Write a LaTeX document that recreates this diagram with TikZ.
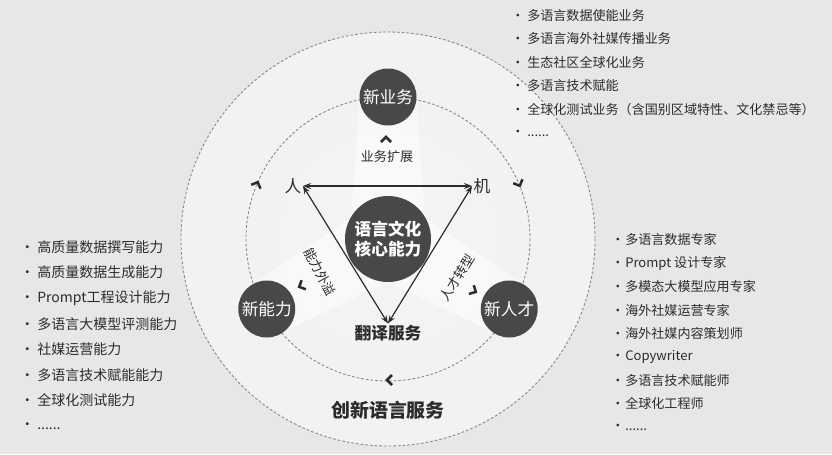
\documentclass[tikz,border=0pt]{standalone}
\usepackage{fontspec}
\setmainfont{Noto Sans CJK SC}
\usetikzlibrary{arrows.meta, calc}

\definecolor{bgcol}{HTML}{E7E7E7}
\definecolor{disccol}{HTML}{484848}
\definecolor{inkcol}{HTML}{2C2C2C}
\definecolor{dashcol}{HTML}{858585}
\pgfdeclareradialshading{ringshade}{\pgfpoint{0bp}{0bp}}{%
  rgb(0bp)=(.955,.955,.955); rgb(33.6bp)=(.945,.945,.945);
  rgb(34.4bp)=(.88,.88,.88); rgb(40bp)=(.91,.91,.91);
  rgb(49.5bp)=(.94,.94,.94); rgb(50bp)=(.94,.94,.94)}
\newcommand\moredots{......}

\begin{document}
\begin{tikzpicture}[
  x=0.75pt, y=-0.75pt,
  disc/.style={circle, fill=disccol, text=white, minimum size=42.75pt, inner sep=0pt, font=\fontsize{12.5}{15}\selectfont},
  core/.style={disc, minimum size=64.5pt, align=center, font=\fontsize{12.5}{15}\selectfont\bfseries},
  word/.style={inner sep=1pt, text=inkcol, font=\fontsize{12.5}{15}\selectfont},
  title/.style={word, font=\fontsize{12.5}{15}\selectfont\bfseries},
  tag/.style={inner sep=0pt, text=inkcol, font=\fontsize{9.8}{12}\selectfont},
  item/.style={anchor=west, inner sep=0pt, text=inkcol, font=\fontsize{9.8}{12}\selectfont},
  bigitem/.style={item, font=\fontsize{10.5}{12}\selectfont},
  arr/.style={{Stealth[length=6pt,width=4.5pt]}-{Stealth[length=6pt,width=4.5pt]}, line width=.9pt, draw=inkcol},
  ring/.style={draw=dashcol, line width=.65pt, dash pattern=on 2pt off 1.5pt},
  beam/.style={fill=white, fill opacity=.5},
  chevline/.style={draw=inkcol, line width=1.9pt},
  chev/.pic={\draw[chevline] (-3,-5) -- (2,0) -- (-3,5);}
]
  \useasboundingbox (0,0) rectangle (832,454);
  \fill[bgcol] (0,0) rectangle (832,454);

  % rings
  \coordinate (c) at (388,239);
  \shade[shading=ringshade] (c) circle (207);
  \draw[ring] (c) circle (207);
  \draw[ring] (c) circle (142);

  % beams from the core to the three discs
  \foreach \a/\d in {-90/142, 150/140, 30/140}
    \fill[beam] ($(c)+(\a:\d)+(\a+90:28)$) -- ($(c)+(\a:\d)+(\a-90:28)$)
      -- ($(c)+(\a:10)+(\a-90:38)$) -- ($(c)+(\a:10)+(\a+90:38)$) -- cycle;

  % triangle
  \node[word] (ren) at (293,186) {人};
  \node[word] (ji) at (482,186) {机};
  \node[title] (fanyi) at (388,333) {翻译服务};
  \draw[arr] (ren.east) -- (ji.west);
  \draw[arr] (ren.east) -- (fanyi.north);
  \draw[arr] (ji.west) -- (fanyi.north);

  % discs
  \node[core] (core) at (c) {语言文化\\核心能力};
  \node[disc] (newbiz) at ($(c)+(-90:142)$) {新业务};
  \node[disc] (newcap) at ($(c)+(150:140)$) {新能力};
  \node[disc] (newtal) at ($(c)+(30:140)$) {新人才};

  % beam labels
  \node[tag] (expand) at (387,157) {业务扩展};
  \node[tag, rotate=-62] (spill) at (320,272) {能力外溢};
  \node[tag, rotate=58] (shift) at (457,278) {人才转型};
  \node[title, font=\fontsize{14.2}{16}\selectfont\bfseries] (innov) at (388,410) {创新语言服务};

  % chevrons
  \pic[rotate=90] at (386,139) {chev};
  \pic[rotate=205] at (301,286) {chev};
  \pic[rotate=-29] at (474,291) {chev};
  \pic[rotate=67] at (257,184) {chev};
  \pic[rotate=-67] at (519,184) {chev};
  \pic[rotate=180] at (389,380) {chev};

  % lists
  \foreach \t [count=\i] in {多语言数据使能业务, 多语言海外社媒传播业务, 生态社区全球化业务,
      多语言技术赋能, 全球化测试业务（含国别区域特性、文化禁忌等）, \moredots}
    \node[item] (biz\i) at (511, {15.5+23.5*(\i-1)}) {\makebox[12pt][l]{•}\t};
  \foreach \t [count=\i] in {高质量数据撰写能力, 高质量数据生成能力, Prompt工程设计能力,
      多语言大模型评测能力, 社媒运营能力, 多语言技术赋能能力, 全球化测试能力, \moredots}
    \node[bigitem] (cap\i) at (20, {247+25.6*(\i-1)}) {\makebox[12.75pt][l]{•}\t};
  \foreach \t [count=\i] in {多语言数据专家, Prompt 设计专家, 多模态大模型应用专家,
      海外社媒运营专家, 海外社媒内容策划师, Copywriter, 多语言技术赋能师, 全球化工程师, \moredots}
    \node[item] (tal\i) at (611, {240+23.4*(\i-1)}) {\makebox[10.5pt][l]{•}\t};
\end{tikzpicture}
\end{document}
